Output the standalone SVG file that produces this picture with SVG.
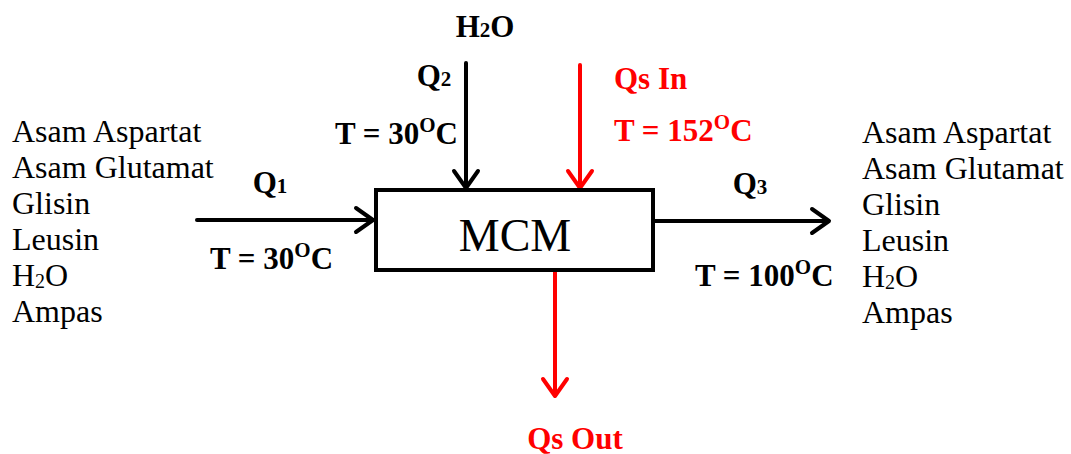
<svg xmlns="http://www.w3.org/2000/svg" width="1071" height="454" viewBox="0 0 1071 454">
<style>
.t{font-family:"Liberation Serif",serif;font-size:32px;fill:#000}
.b{font-family:"Liberation Serif",serif;font-size:31px;font-weight:bold;fill:#000}
.r{fill:#ff0000}
.sm{font-size:21px}
.sub{font-size:20px}
.blk{stroke:#000;stroke-width:4;fill:none;stroke-linecap:round;stroke-linejoin:round}
.red{stroke:#ff0000;stroke-width:4;fill:none;stroke-linecap:round;stroke-linejoin:round}
</style>
<g id="connectors">
<line class="blk" x1="197" y1="220" x2="372" y2="220"/>
<polyline class="blk" points="356,208 373,220 356,232"/>
<line class="blk" x1="655" y1="221" x2="828" y2="221"/>
<polyline class="blk" points="812,209 829,221 812,233"/>
<line class="blk" x1="466" y1="63" x2="466" y2="187"/>
<polyline class="blk" points="454,171 466,188 478,171"/>
<line class="red" x1="580" y1="65" x2="580" y2="187"/>
<polyline class="red" points="568,171 580,188 592,171"/>
<line class="red" x1="555" y1="271" x2="555" y2="395"/>
<polyline class="red" points="543,379 555,396 567,379"/>
</g>
<g id="mcm">
<rect x="376" y="190" width="277" height="80" fill="#fff" stroke="#000" stroke-width="4"/>
<text x="515" y="251" text-anchor="middle" style="font-family:'Liberation Serif',serif;font-size:46px">MCM</text>
</g>
<g id="h2o-top">
<text class="b" x="485" y="37" text-anchor="middle">H<tspan class="sm">2</tspan>O</text>
</g>
<g id="q2-label">
<text class="b" x="434" y="86" text-anchor="middle">Q<tspan class="sm">2</tspan></text>
<text class="b" x="458" y="144" text-anchor="end">T = 30<tspan class="sm" dy="-12">O</tspan><tspan dy="12">C</tspan></text>
</g>
<g id="qs-in">
<text class="b r" x="614" y="89">Qs In</text>
<text class="b r" x="614" y="141">T = 152<tspan class="sm" dy="-12">O</tspan><tspan dy="12">C</tspan></text>
</g>
<g id="q1-label">
<text class="b" x="270" y="193" text-anchor="middle">Q<tspan class="sm">1</tspan></text>
<text class="b" x="210" y="269">T = 30<tspan class="sm" dy="-12">O</tspan><tspan dy="12">C</tspan></text>
</g>
<g id="q3-label">
<text class="b" x="750" y="194" text-anchor="middle">Q<tspan class="sm">3</tspan></text>
<text class="b" x="695" y="286">T = 100<tspan class="sm" dy="-12">O</tspan><tspan dy="12">C</tspan></text>
</g>
<g id="qs-out">
<text class="b r" x="575" y="449" text-anchor="middle">Qs Out</text>
</g>
<g id="input-list">
<text class="t" x="12" y="142">Asam Aspartat</text>
<text class="t" x="12" y="178">Asam Glutamat</text>
<text class="t" x="12" y="214">Glisin</text>
<text class="t" x="12" y="250">Leusin</text>
<text class="t" x="12" y="286">H<tspan class="sub" dy="2">2</tspan><tspan dy="-2">O</tspan></text>
<text class="t" x="12" y="322">Ampas</text>
</g>
<g id="output-list">
<text class="t" x="862" y="143">Asam Aspartat</text>
<text class="t" x="862" y="179">Asam Glutamat</text>
<text class="t" x="862" y="215">Glisin</text>
<text class="t" x="862" y="251">Leusin</text>
<text class="t" x="862" y="287">H<tspan class="sub" dy="2">2</tspan><tspan dy="-2">O</tspan></text>
<text class="t" x="862" y="323">Ampas</text>
</g>
</svg>
